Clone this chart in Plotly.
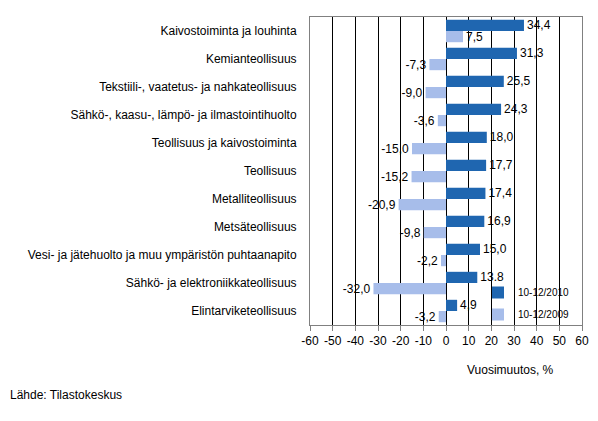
import plotly.graph_objects as go

categories = [
    "Kaivostoiminta ja louhinta",
    "Kemianteollisuus",
    "Tekstiili-, vaatetus- ja nahkateollisuus",
    "Sähkö-, kaasu-, lämpö- ja ilmastointihuolto",
    "Teollisuus ja kaivostoiminta",
    "Teollisuus",
    "Metalliteollisuus",
    "Metsäteollisuus",
    "Vesi- ja jätehuolto ja muu ympäristön puhtaanapito",
    "Sähkö- ja elektroniikkateollisuus",
    "Elintarviketeollisuus",
]
values_2010 = [34.4, 31.3, 25.5, 24.3, 18.0, 17.7, 17.4, 16.9, 15.0, 13.8, 4.9]
values_2009 = [7.5, -7.3, -9.0, -3.6, -15.0, -15.2, -20.9, -9.8, -2.2, -32.0, -3.2]
labels_2010 = ["34,4", "31,3", "25,5", "24,3", "18,0", "17,7", "17,4", "16,9", "15,0", "13.8", "4,9"]
labels_2009 = ["7,5", "-7,3", "-9,0", "-3,6", "-15,0", "-15,2", "-20,9", "-9,8", "-2,2", "-32,0", "-3,2"]
ticks = [-60, -50, -40, -30, -20, -10, 0, 10, 20, 30, 40, 50, 60]

font = "Liberation Sans, Arial, sans-serif"

# the page has an 8px body margin, so the figure is 8px smaller than the window
OFF = 8
FW, FH = 598 - OFF, 421 - OFF
# plot area in reference pixels: x 310..582, y 17..325
X0, X1, Y0, Y1 = 310, 582, 17, 325
W, H = X1 - X0, Y1 - Y0


def px(x):
    return (x - X0) / W


def py(y):
    return (Y1 - y) / H


fig = go.Figure()
fig.add_trace(go.Bar(
    y=categories, x=values_2010, orientation="h", name="10-12/2010",
    legendgroup="a",
    marker=dict(color="#1F66B0", line=dict(width=0)),
    text=labels_2010, textposition="outside", cliponaxis=False,
    constraintext="none",
    textfont=dict(family=font, size=12, color="black"),
))
fig.add_trace(go.Bar(
    y=categories, x=values_2009, orientation="h", name="10-12/2009",
    legendgroup="b",
    marker=dict(color="#A7BDEA", line=dict(width=0)),
    text=labels_2009, textposition="outside", cliponaxis=False,
    constraintext="none",
    textfont=dict(family=font, size=12, color="black"),
))

fig.update_layout(
    width=FW, height=FH,
    margin=dict(l=X0 - OFF, r=598 - X1, t=Y0 - OFF, b=421 - Y1, autoexpand=False),
    barmode="group", bargap=0.2, bargroupgap=0,
    plot_bgcolor="white", paper_bgcolor="white",
    font=dict(family=font, size=12, color="black"),
    showlegend=True,
    legend=dict(x=px(478), y=py(278), xanchor="left", yanchor="top",
                bgcolor="rgba(0,0,0,0)", font=dict(size=10),
                itemwidth=30, traceorder="grouped", tracegroupgap=3),
    annotations=[
        dict(text="Vuosimuutos, %", x=px(510), y=py(370),
             xref="paper", yref="paper", showarrow=False,
             font=dict(size=12), xanchor="center", yanchor="middle"),
        dict(text="Lähde: Tilastokeskus", x=px(8), y=py(395),
             xref="paper", yref="paper", showarrow=False,
             font=dict(size=12), xanchor="left", yanchor="middle"),
    ],
)

fig.update_xaxes(
    range=[-60, 60], tickvals=ticks, ticktext=[str(t) for t in ticks],
    showgrid=True, gridcolor="black", gridwidth=1,
    zeroline=True, zerolinecolor="black", zerolinewidth=1,
    showline=True, linecolor="#808080", mirror=True,
    ticks="outside", ticklen=5, tickcolor="#808080",
    tickfont=dict(size=12), automargin=False,
)
fig.update_yaxes(
    autorange="reversed", showgrid=False,
    showline=True, linecolor="#808080", mirror=True,
    ticks="", ticklabelstandoff=10, automargin=False,
)

fig.write_html("out.html")
